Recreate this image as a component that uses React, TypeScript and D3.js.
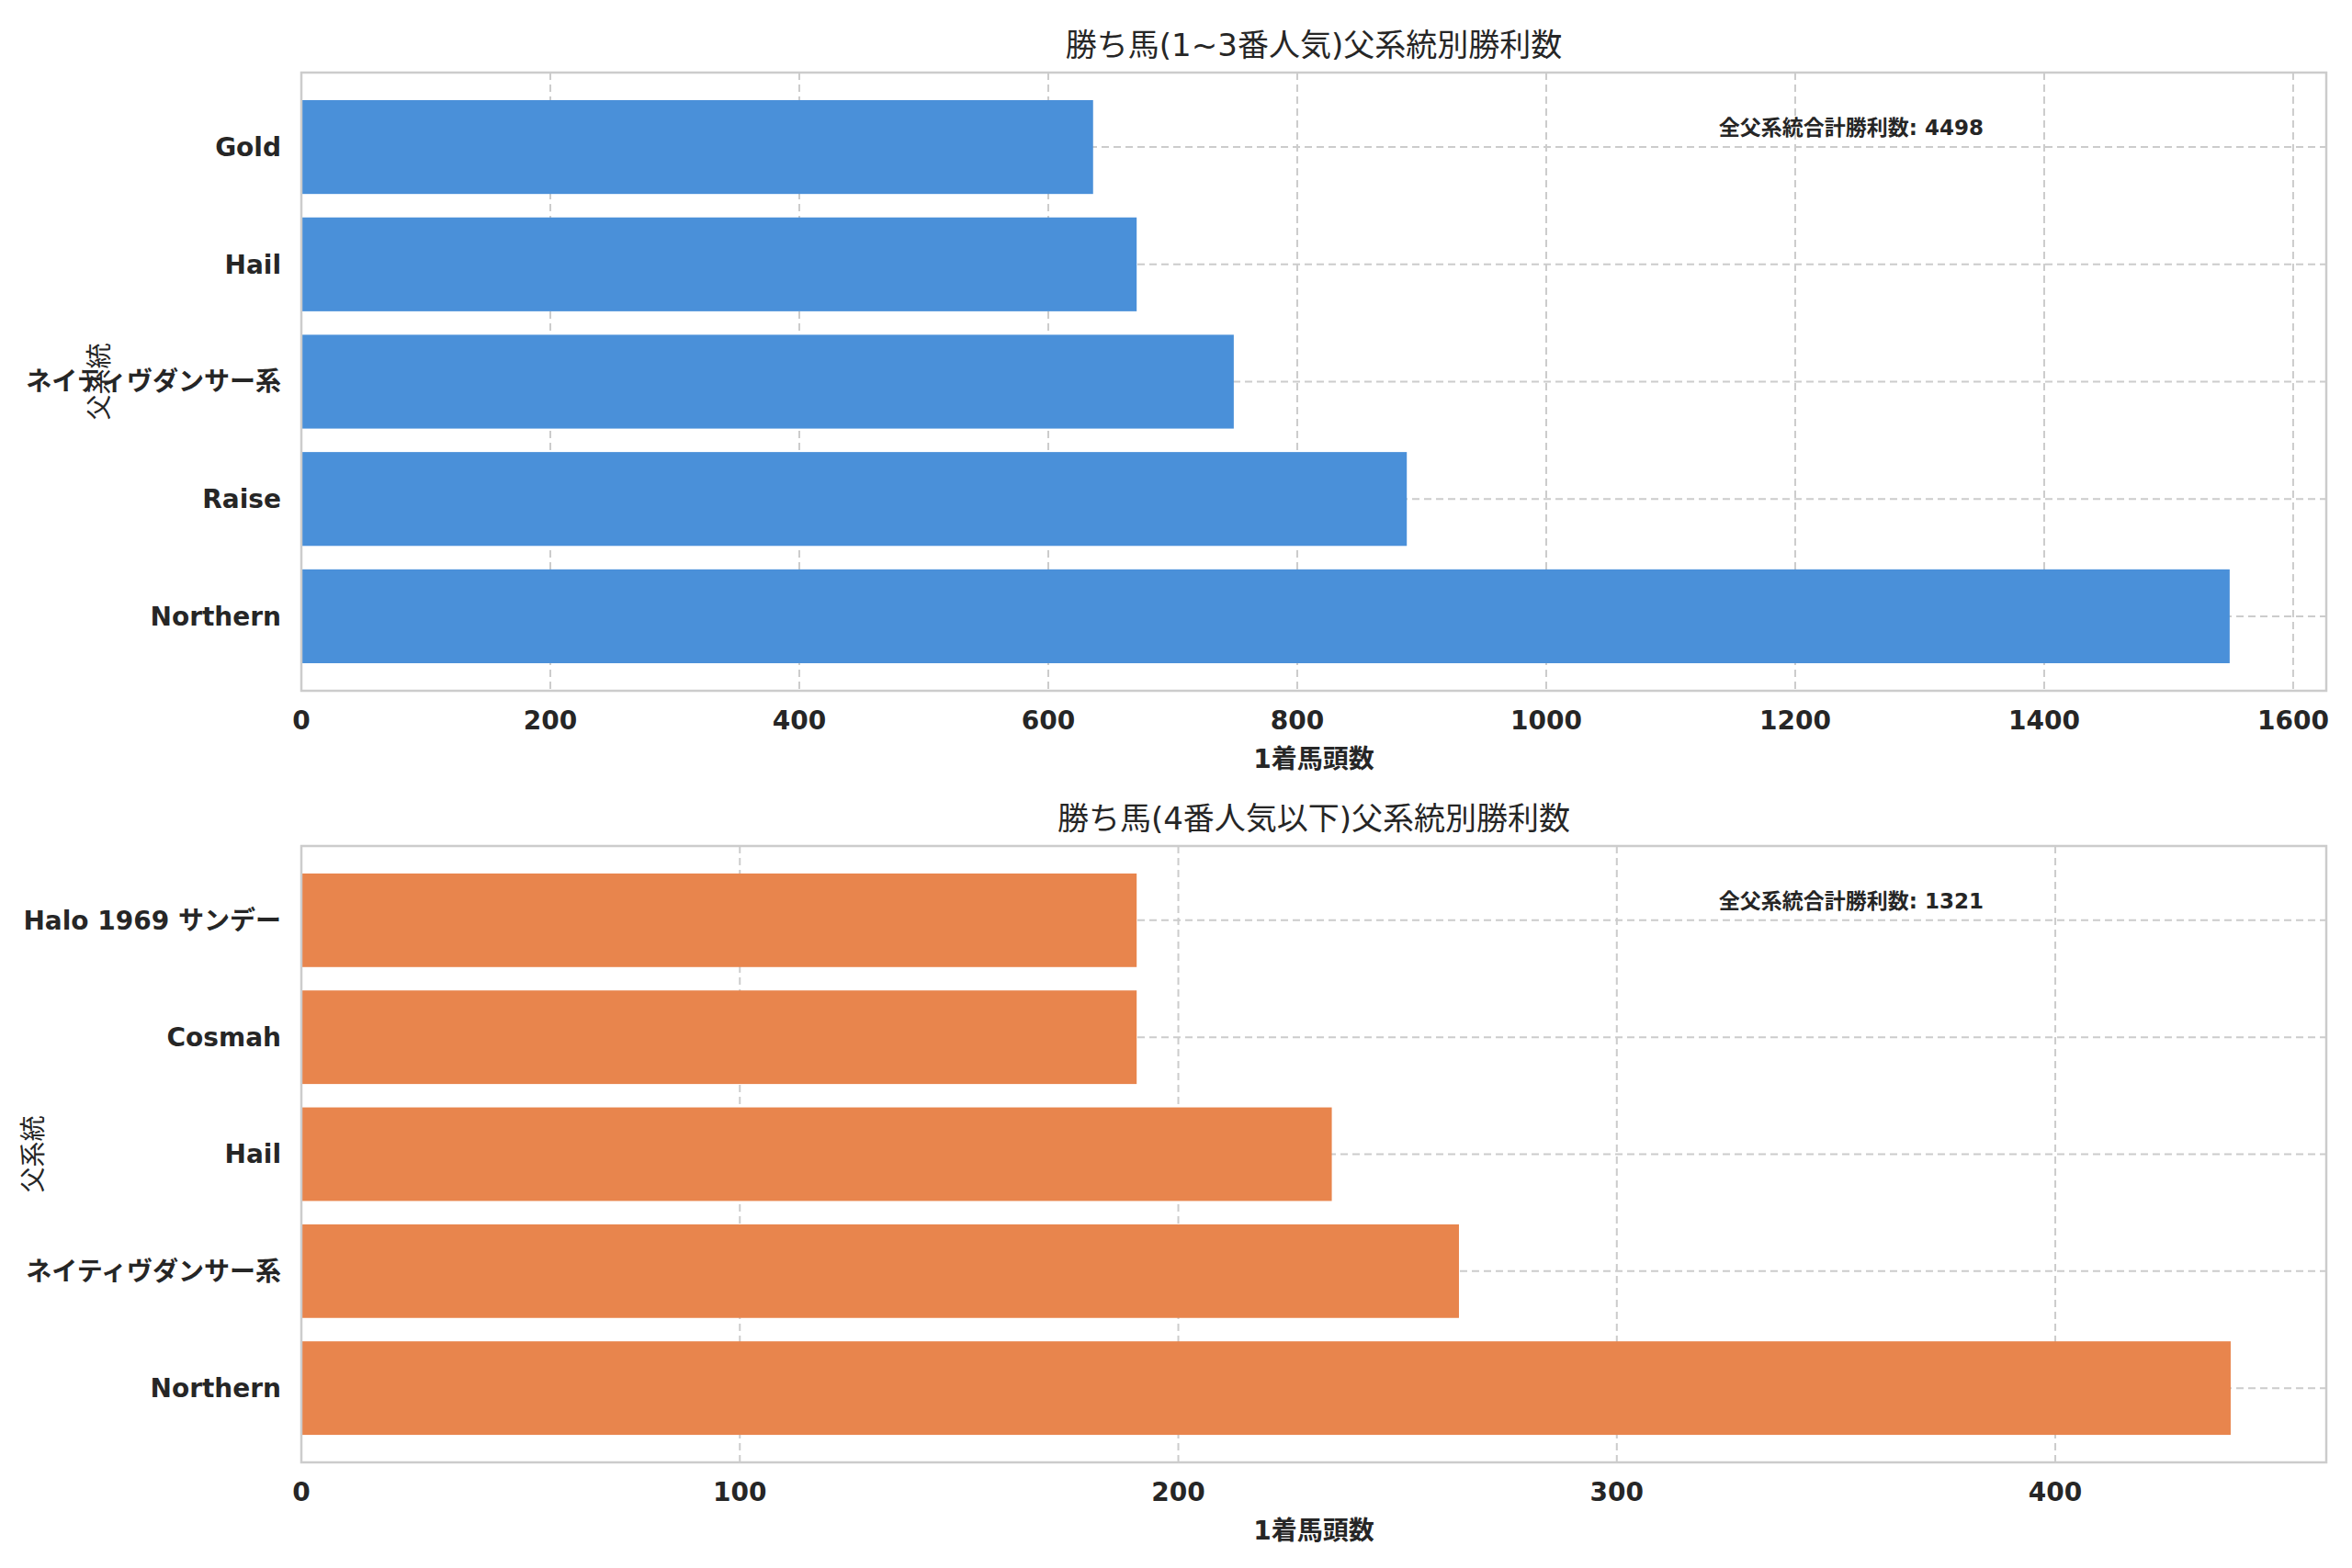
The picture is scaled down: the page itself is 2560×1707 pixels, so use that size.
import * as d3 from "d3";
import { useEffect, useRef } from "react";

const WIDTH = 2560;
const HEIGHT = 1707;

const topCats = ["Gold", "Hail", "ネイティヴダンサー系", "Raise", "Northern"];
const topValues = [636, 671, 749, 888, 1549];
const topTicks = [0, 200, 400, 600, 800, 1000, 1200, 1400, 1600];
const bottomCats = ["Halo 1969 サンデー", "Cosmah", "Hail", "ネイティヴダンサー系", "Northern"];
const bottomValues = [190.5, 190.5, 235, 264, 440];
const bottomTicks = [0, 100, 200, 300, 400];
const topTitle = "勝ち馬(1~3番人気)父系統別勝利数";
const bottomTitle = "勝ち馬(4番人気以下)父系統別勝利数";
const topNote = "全父系統合計勝利数: 4498";
const bottomNote = "全父系統合計勝利数: 1321";
const xLabel = "1着馬頭数";
const yLabel = "父系統";

const FONT = "'DejaVu Sans', 'Noto Sans CJK JP', sans-serif";
const INK = "#262626";
const LEFT = 328;
const RIGHT = 2532;

interface Panel {
  cats: string[];
  values: number[];
  ticks: number[];
  xMax: number;
  title: string;
  note: string;
  color: string;
  top: number;
  bottom: number;
  yLabelX: number;
}

const panels: Panel[] = [
  { cats: topCats, values: topValues, ticks: topTicks, xMax: 1626.6, title: topTitle, note: topNote, color: "#4A90D9", top: 79, bottom: 752, yLabelX: 118 },
  { cats: bottomCats, values: bottomValues, ticks: bottomTicks, xMax: 461.8, title: bottomTitle, note: bottomNote, color: "#E8854D", top: 921, bottom: 1592, yLabelX: 46 },
];

export default function App() {
  const ref = useRef<SVGSVGElement>(null);

  useEffect(() => {
    const svg = d3.select(ref.current);
    svg.selectAll("*").remove();
    svg.append("rect").attr("width", WIDTH).attr("height", HEIGHT).attr("fill", "#fff");

    for (const p of panels) {
      const g = svg.append("g").attr("font-family", FONT).attr("fill", INK);
      const x = d3.scaleLinear().domain([0, p.xMax]).range([LEFT, RIGHT]);
      const y = d3
        .scaleBand<string>()
        .domain(p.cats)
        .range([p.top, p.bottom])
        .paddingInner(0.2)
        .paddingOuter(0.235);

      // Grid (dashed), drawn under bars.
      const grid = g.append("g").attr("stroke", "#cccccc").attr("stroke-width", 2).attr("stroke-dasharray", "8,5");
      grid
        .selectAll("line.v")
        .data(p.ticks)
        .join("line")
        .attr("x1", (d) => x(d))
        .attr("x2", (d) => x(d))
        .attr("y1", p.top)
        .attr("y2", p.bottom);
      grid
        .selectAll("line.h")
        .data(p.cats)
        .join("line")
        .attr("x1", LEFT)
        .attr("x2", RIGHT)
        .attr("y1", (d) => y(d)! + y.bandwidth() / 2)
        .attr("y2", (d) => y(d)! + y.bandwidth() / 2);

      g.append("g")
        .selectAll("rect")
        .data(p.cats)
        .join("rect")
        .attr("x", x(0))
        .attr("y", (d) => y(d)!)
        .attr("height", y.bandwidth())
        .attr("width", (_, i) => x(p.values[i]) - x(0))
        .attr("fill", p.color);

      // Frame.
      g.append("rect")
        .attr("x", LEFT)
        .attr("y", p.top)
        .attr("width", RIGHT - LEFT)
        .attr("height", p.bottom - p.top)
        .attr("fill", "none")
        .attr("stroke", "#cccccc")
        .attr("stroke-width", 2.5);

      // Tick labels.
      g.append("g")
        .selectAll("text")
        .data(p.ticks)
        .join("text")
        .attr("x", (d) => x(d))
        .attr("y", p.bottom + 42)
        .attr("text-anchor", "middle")
        .attr("font-size", 28)
        .attr("font-weight", "bold")
        .text((d) => d);
      g.append("g")
        .selectAll("text")
        .data(p.cats)
        .join("text")
        .attr("x", LEFT - 22)
        .attr("y", (d) => y(d)! + y.bandwidth() / 2)
        .attr("dy", "0.35em")
        .attr("text-anchor", "end")
        .attr("font-size", 28)
        .attr("font-weight", "bold")
        .text((d) => d);

      g.append("text")
        .attr("x", (LEFT + RIGHT) / 2)
        .attr("y", p.bottom + 84)
        .attr("text-anchor", "middle")
        .attr("font-size", 28)
        .attr("font-weight", "bold")
        .text(xLabel);
      g.append("text")
        .attr("transform", `translate(${p.yLabelX},${(p.top + p.bottom) / 2}) rotate(-90)`)
        .attr("text-anchor", "middle")
        .attr("font-size", 28)
        .text(yLabel);
      g.append("text")
        .attr("x", (LEFT + RIGHT) / 2)
        .attr("y", p.top - 18)
        .attr("text-anchor", "middle")
        .attr("font-size", 34)
        .text(p.title);
      g.append("text")
        .attr("x", LEFT + (RIGHT - LEFT) * 0.7)
        .attr("y", p.top + 68)
        .attr("text-anchor", "start")
        .attr("font-size", 23)
        .attr("font-weight", "bold")
        .text(p.note);
    }
  }, []);

  return (
    <div style={{ position: "absolute", left: 0, top: 0 }}>
      <svg ref={ref} width={WIDTH} height={HEIGHT} viewBox={`0 0 ${WIDTH} ${HEIGHT}`} style={{ display: "block" }} />
    </div>
  );
}
